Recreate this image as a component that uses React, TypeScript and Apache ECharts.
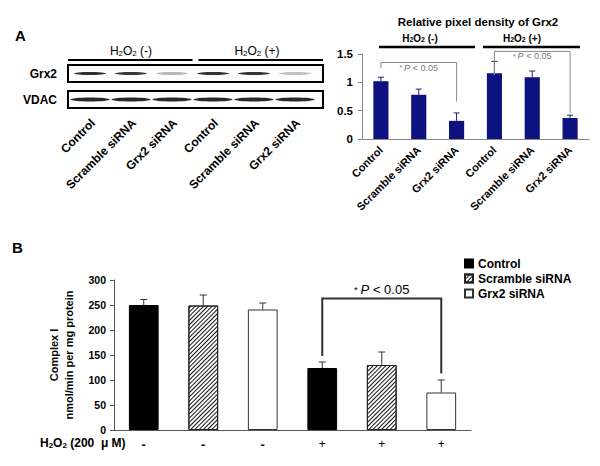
import React, { useEffect, useRef } from 'react';
import * as echarts from 'echarts';

const FONT = "'Liberation Sans', Arial, Helvetica, sans-serif";

// ---------- Panel A: western blot ----------
const blotLanes = ['Control', 'Scramble siRNA', 'Grx2 siRNA', 'Control', 'Scramble siRNA', 'Grx2 siRNA'];
const blotRows = ['Grx2', 'VDAC'];
const grx2BandIntensity = [0.92, 0.88, 0.25, 0.9, 0.9, 0.2];
const vdacBandIntensity = [0.95, 0.95, 0.95, 0.95, 0.95, 0.95];
const treatmentGroups = ['(-)', '(+)'];

// ---------- Panel A: densitometry ----------
const densityTitle = 'Relative pixel density of Grx2';
const densityCategories = ['Control', 'Scramble siRNA', 'Grx2 siRNA', 'Control', 'Scramble siRNA', 'Grx2 siRNA'];
const densityValues = [1.02, 0.78, 0.32, 1.16, 1.09, 0.37];
const densityErrors = [0.07, 0.1, 0.14, 0.21, 0.11, 0.05];
// [fromIndex, toIndex, topValue, leftEndValue, rightEndValue]
const densityBrackets = [
  [0, 2, 1.35, 1.25, 0.66],
  [3, 5, 1.545, 1.13, 0.46],
];

// ---------- Panel B: complex I activity ----------
const complexCategories = ['-', '-', '-', '+', '+', '+'];
const complexGroups = ['Control', 'Scramble siRNA', 'Grx2 siRNA'];
const complexGroupIndex = [0, 1, 2, 0, 1, 2];
const complexValues = [250, 249, 241, 124, 130, 75];
const complexErrors = [11, 21, 13, 12, 26, 25];
const complexBrackets = [[3, 5, 263, 148, 113]];
const complexAxisName = ['Complex I', 'nmol/min per mg protein'];

const hatchDecal = {
  symbol: 'rect',
  symbolSize: 1,
  color: '#111',
  backgroundColor: '#fff',
  dashArrayX: [1, 0],
  dashArrayY: [1, 2],
  rotation: -Math.PI / 4,
};

const groupStyles = [
  { color: '#000', borderColor: '#000', borderWidth: 1 },
  { color: '#fff', borderColor: '#222', borderWidth: 1, decal: hatchDecal },
  { color: '#fff', borderColor: '#333', borderWidth: 1 },
];

function errorBarRender(cap: number, color: string) {
  return (_params: any, api: any) => {
    const i = api.value(0);
    const v = api.value(1);
    const e = api.value(2);
    const b = api.coord([i, v]);
    const t = api.coord([i, v + e]);
    return {
      type: 'group',
      children: [
        { type: 'line', shape: { x1: b[0], y1: b[1], x2: t[0], y2: t[1] }, style: { stroke: color, lineWidth: 1 } },
        { type: 'line', shape: { x1: t[0] - cap / 2, y1: t[1], x2: t[0] + cap / 2, y2: t[1] }, style: { stroke: color, lineWidth: 1 } },
      ],
    };
  };
}

function bracketRender(color: string, lw: number, fontSize: number, textColor: string, textDy: number) {
  return (_params: any, api: any) => {
    const a = api.value(0);
    const b = api.value(1);
    const top = api.value(2);
    const lv = api.value(3);
    const rv = api.value(4);
    const pTL = api.coord([a, top]);
    const pTR = api.coord([b, top]);
    const pL = api.coord([a, lv]);
    const pR = api.coord([b, rv]);
    return {
      type: 'group',
      children: [
        {
          type: 'polyline',
          shape: { points: [pL, pTL, pTR, pR] },
          style: { stroke: color, lineWidth: lw, fill: null },
        },
        {
          type: 'text',
          x: (pTL[0] + pTR[0]) / 2,
          y: pTL[1] + textDy,
          style: {
            text: '{a|* }{i|P}{n| < 0.05}',
            align: 'center',
            verticalAlign: 'middle',
            rich: {
              a: { fontSize: fontSize * 0.75, fontFamily: FONT, fill: textColor },
              i: { fontSize, fontFamily: FONT, fontStyle: 'italic', fill: textColor },
              n: { fontSize, fontFamily: FONT, fill: textColor },
            },
          },
        },
      ],
    };
  };
}

function h2o2Text(x: number, y: number, suffix: string, size: number, weight: string, align = 'center') {
  const sub = Math.round(size * 0.7);
  return {
    type: 'text',
    x,
    y,
    style: {
      text: `{n|H}{s|2}{n|O}{s|2}{n|${suffix}}`,
      align,
      verticalAlign: 'middle',
      rich: {
        n: { fontSize: size, fontWeight: weight, fontFamily: FONT, fill: '#000', verticalAlign: 'middle' },
        s: { fontSize: sub, fontWeight: weight, fontFamily: FONT, fill: '#000', verticalAlign: 'bottom' },
      },
    },
  };
}

function buildGraphics() {
  const g: any[] = [];
  const boxLeft = 68;
  const boxRight = 323;
  const laneX = (i: number) => 90 + 41 * i;
  // panel letters
  g.push({ type: 'text', x: 15, y: 35, style: { text: 'A', fontSize: 15, fontWeight: 'bold', fontFamily: FONT, fill: '#000', verticalAlign: 'middle' } });
  g.push({ type: 'text', x: 12, y: 247, style: { text: 'B', fontSize: 15, fontWeight: 'bold', fontFamily: FONT, fill: '#000', verticalAlign: 'middle' } });
  // treatment headers over blot
  const mid = (boxLeft + boxRight) / 2;
  g.push(h2o2Text(131, 51, ` ${treatmentGroups[0]}`, 12, 'normal'));
  g.push(h2o2Text(257, 51, ` ${treatmentGroups[1]}`, 12, 'normal'));
  g.push({ type: 'line', shape: { x1: boxLeft, y1: 60, x2: mid - 3, y2: 60 }, style: { stroke: '#000', lineWidth: 2 } });
  g.push({ type: 'line', shape: { x1: mid + 3, y1: 60, x2: boxRight, y2: 60 }, style: { stroke: '#000', lineWidth: 2 } });
  // blot boxes
  const rowY = [65, 91];
  const rowH = 17;
  blotRows.forEach((name, r) => {
    g.push({ type: 'rect', shape: { x: boxLeft, y: rowY[r], width: boxRight - boxLeft, height: rowH }, style: { fill: '#fdfdfd', stroke: '#000', lineWidth: 2 } });
    g.push({ type: 'text', x: 57, y: rowY[r] + rowH / 2, style: { text: name, fontSize: 12, fontWeight: 'bold', fontFamily: FONT, fill: '#000', align: 'right', verticalAlign: 'middle' } });
    const intens = r === 0 ? grx2BandIntensity : vdacBandIntensity;
    intens.forEach((k, i) => {
      const cx = laneX(i);
      const cy = rowY[r] + rowH / 2;
      const rx = r === 0 ? 16 : 19.5;
      const ry = r === 0 ? 1.5 : 2;
      const shade = Math.round(235 - 205 * k);
      g.push({
        type: 'ellipse',
        shape: { cx, cy, rx, ry },
        style: { fill: `rgb(${shade},${shade},${shade})` },
      });
    });
  });
  // lane labels
  blotLanes.forEach((name, i) => {
    g.push({
      type: 'text',
      x: laneX(i) + 3,
      y: 121,
      rotation: Math.PI / 4,
      style: { text: name, fontSize: 12, fontWeight: 'bold', fontFamily: FONT, fill: '#000', align: 'right', verticalAlign: 'middle' },
    });
  });
  // densitometry title and group headers
  g.push({ type: 'text', x: 478, y: 22, style: { text: densityTitle, fontSize: 11.5, fontWeight: 'bold', fontFamily: FONT, fill: '#000', align: 'center', verticalAlign: 'middle' } });
  g.push(h2o2Text(420, 38, ` ${treatmentGroups[0]}`, 10, 'bold'));
  g.push(h2o2Text(522, 38, ` ${treatmentGroups[1]}`, 10, 'bold'));
  g.push({ type: 'line', shape: { x1: 379, y1: 47, x2: 475, y2: 47 }, style: { stroke: '#000', lineWidth: 2.5 } });
  g.push({ type: 'line', shape: { x1: 483, y1: 47, x2: 580, y2: 47 }, style: { stroke: '#000', lineWidth: 2.5 } });
  // panel B treatment row label
  g.push(h2o2Text(40, 443, ' (200  \u03bc M)', 12, 'bold', 'left'));
  return g;
}

function buildOption(): any {
  return {
    animation: false,
    backgroundColor: '#fff',
    textStyle: { fontFamily: FONT },
    grid: [
      { left: 362, top: 54, width: 227, height: 85 },
      { left: 114, top: 280, width: 357, height: 150 },
    ],
    legend: {
      data: complexGroups,
      orient: 'vertical',
      left: 459,
      top: 251,
      padding: 5,
      icon: 'rect',
      itemWidth: 8,
      itemHeight: 8,
      itemGap: 0,
      textStyle: { fontSize: 12, fontWeight: 'bold', fontFamily: FONT, color: '#000', lineHeight: 15 },
    },
    xAxis: [
      {
        type: 'category',
        gridIndex: 0,
        data: densityCategories,
        axisLine: { lineStyle: { color: '#888', width: 1 } },
        axisTick: { show: false },
        axisLabel: { interval: 0, rotate: 45, margin: 9, fontSize: 11, fontWeight: 'bold', fontFamily: FONT, color: '#000' },
      },
      {
        type: 'category',
        gridIndex: 1,
        data: complexCategories,
        axisLine: { lineStyle: { color: '#555', width: 1 } },
        axisTick: { show: false },
        axisLabel: {
          interval: 0,
          margin: 8,
          fontSize: 12,
          fontFamily: FONT,
          color: '#000',
          formatter: (v: string) => (v === '-' ? `{b|${v}}` : `{r|${v}}`),
          rich: {
            b: { fontSize: 13, fontWeight: 'bold', fontFamily: FONT, color: '#000' },
            r: { fontSize: 12, fontFamily: FONT, color: '#000' },
          },
        },
      },
    ],
    yAxis: [
      {
        type: 'value',
        gridIndex: 0,
        min: 0,
        max: 1.5,
        interval: 0.5,
        splitLine: { show: false },
        axisLine: { show: true, lineStyle: { color: '#888' } },
        axisTick: { show: true, length: 4, lineStyle: { color: '#888' } },
        axisLabel: { margin: 9, fontSize: 11.5, fontWeight: 'bold', fontFamily: FONT, color: '#000' },
      },
      {
        type: 'value',
        gridIndex: 1,
        min: 0,
        max: 300,
        interval: 50,
        splitLine: { show: false },
        axisLine: { show: true, lineStyle: { color: '#555' } },
        axisTick: { show: true, length: 4, lineStyle: { color: '#555' } },
        axisLabel: { margin: 8, fontSize: 10.5, fontWeight: 'bold', fontFamily: FONT, color: '#000' },
        name: complexAxisName.join('\n'),
        nameLocation: 'middle',
        nameRotate: 90,
        nameGap: 38,
        nameTextStyle: { fontSize: 11, fontWeight: 'bold', fontFamily: FONT, color: '#000', lineHeight: 15 },
      },
    ],
    series: [
      {
        name: 'Relative density',
        type: 'bar',
        xAxisIndex: 0,
        yAxisIndex: 0,
        barWidth: '40%',
        itemStyle: { color: '#0e1280' },
        data: densityValues,
      },
      {
        type: 'custom',
        xAxisIndex: 0,
        yAxisIndex: 0,
        z: 5,
        renderItem: errorBarRender(6, '#22225a'),
        data: densityValues.map((v, i) => [i, v, densityErrors[i]]),
      },
      {
        type: 'custom',
        xAxisIndex: 0,
        yAxisIndex: 0,
        z: 6,
        clip: false,
        renderItem: bracketRender('#8a8a8a', 1, 9, '#777', 5),
        data: densityBrackets,
      },
      ...complexGroups.map((name, gi) => ({
        name,
        type: 'bar',
        xAxisIndex: 1,
        yAxisIndex: 1,
        barWidth: '50%',
        barGap: '-100%',
        itemStyle: groupStyles[gi],
        data: complexValues.map((v, i) => (complexGroupIndex[i] === gi ? v : '-')),
      })),
      {
        type: 'custom',
        xAxisIndex: 1,
        yAxisIndex: 1,
        z: 5,
        renderItem: errorBarRender(7, '#333'),
        data: complexValues.map((v, i) => [i, v, complexErrors[i]]),
      },
      {
        type: 'custom',
        xAxisIndex: 1,
        yAxisIndex: 1,
        z: 6,
        clip: false,
        renderItem: bracketRender('#333', 2, 13, '#000', -9),
        data: complexBrackets,
      },
    ],
    graphic: buildGraphics(),
  };
}

export default function App() {
  const ref = useRef<HTMLDivElement>(null);
  useEffect(() => {
    if (!ref.current) return;
    const chart = echarts.init(ref.current, null, { renderer: 'svg' });
    chart.setOption(buildOption());
    return () => chart.dispose();
  }, []);
  return (
    <div
      ref={ref}
      style={{ position: 'fixed', left: 0, top: 0, width: 600, height: 466, background: '#fff' }}
    />
  );
}
